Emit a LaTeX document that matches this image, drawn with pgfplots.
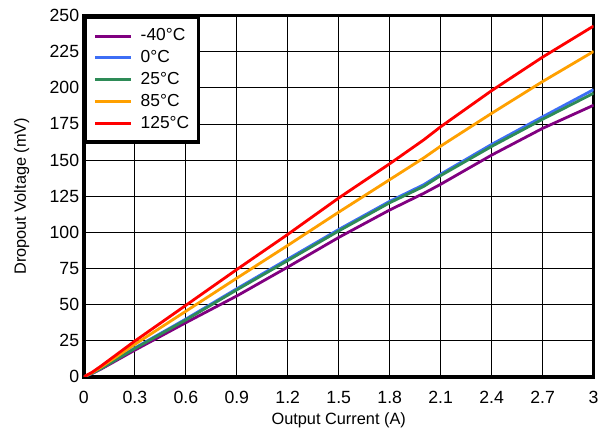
\documentclass[border=0pt]{standalone}
\usepackage{pgfplots}
\pgfplotsset{compat=1.18}
\usepackage{fontspec}
\setmainfont{Liberation Sans}
\definecolor{cpurple}{HTML}{800080}
\definecolor{cblue}{HTML}{3D6EF5}
\definecolor{cgreen}{HTML}{2E8B57}
\definecolor{corange}{HTML}{FFA000}
\definecolor{cred}{HTML}{FF0000}
\begin{document}
\begin{tikzpicture}
\begin{axis}[
  scale only axis,
  width=381pt, height=270pt,
  xmin=0, xmax=3, ymin=0, ymax=250,
  xtick={0,0.3,0.6,0.9,1.2,1.5,1.8,2.1,2.4,2.7,3},
  xticklabels={0,0.3,0.6,0.9,1.2,1.5,1.8,2.1,2.4,2.7,3},
  ytick={0,25,50,75,100,125,150,175,200,225,250},
  /pgf/number format/assume math mode=true,
  tick label style={font=\fontsize{13.2}{15}\selectfont},
  yticklabel style={inner ysep=7pt},
  xticklabel style={yshift=-7.5pt},
  label style={font=\fontsize{12.2}{14}\selectfont},
  xlabel={Output Current (A)},
  ylabel={Dropout Voltage (mV)},
  xlabel style={at={(axis description cs:0.5,-0.12)}, anchor=center, inner sep=4pt},
  ylabel style={at={(axis description cs:-0.122,0.5)}, anchor=center, inner sep=10.5pt},
  major tick length=0pt,
  grid=major,
  major grid style={black, line width=0.7pt},
  axis line style={line width=2.6pt},
  legend style={at={(0,1)}, anchor=north west, draw=black, line width=2.6pt,
    font=\fontsize{13}{15}\selectfont, inner xsep=6pt, inner ysep=7pt,
    nodes={inner sep=1pt, text height=9.5pt, text depth=2.5pt},
    row sep=2.3pt, column sep=5pt, fill=white},
  legend cell align=left,
  legend image code/.code={\draw[#1, line width=2.2pt] (0pt,0pt) -- (27pt,0pt);},
  every axis plot/.append style={line width=2.1pt, no markers},
]
\addplot[cpurple] coordinates {(0,0) (0.05,2.4) (0.1,5.3) (0.3,18.5) (0.6,37.5) (0.9,56) (1.2,76) (1.5,96.5) (1.8,115.5) (2.0,127) (2.1,133.3) (2.4,153.5) (2.7,172) (3,188)};
\addlegendentry{-40°C}
\addplot[cblue] coordinates {(0,0) (0.05,2.6) (0.1,5.8) (0.3,20) (0.6,40) (0.9,61) (1.2,81.5) (1.5,102) (1.8,121.5) (2.0,133) (2.1,140.3) (2.4,160.9) (2.7,180) (3,198.8)};
\addlegendentry{0°C}
\addplot[cgreen] coordinates {(0,0) (0.05,2.6) (0.1,5.7) (0.3,19.6) (0.6,39.4) (0.9,60.2) (1.2,80.5) (1.5,101) (1.8,120.5) (2.0,131.8) (2.1,139.3) (2.4,159.5) (2.7,178.3) (3,196.3)};
\addlegendentry{25°C}
\addplot[corange] coordinates {(0,0) (0.05,3) (0.1,6.7) (0.3,22.5) (0.6,45.4) (0.9,68.3) (1.2,91) (1.5,114) (1.8,136.5) (2.0,151.5) (2.1,159.7) (2.4,182.4) (2.7,204.4) (3,225.2)};
\addlegendentry{85°C}
\addplot[cred] coordinates {(0,0) (0.05,3.3) (0.1,7.4) (0.3,24.8) (0.6,49.5) (0.9,74.3) (1.2,98.6) (1.5,123.8) (1.8,147.5) (2.0,164) (2.1,173.1) (2.4,198.1) (2.7,221.3) (3,242.8)};
\addlegendentry{125°C}
\end{axis}
\end{tikzpicture}
\end{document}
